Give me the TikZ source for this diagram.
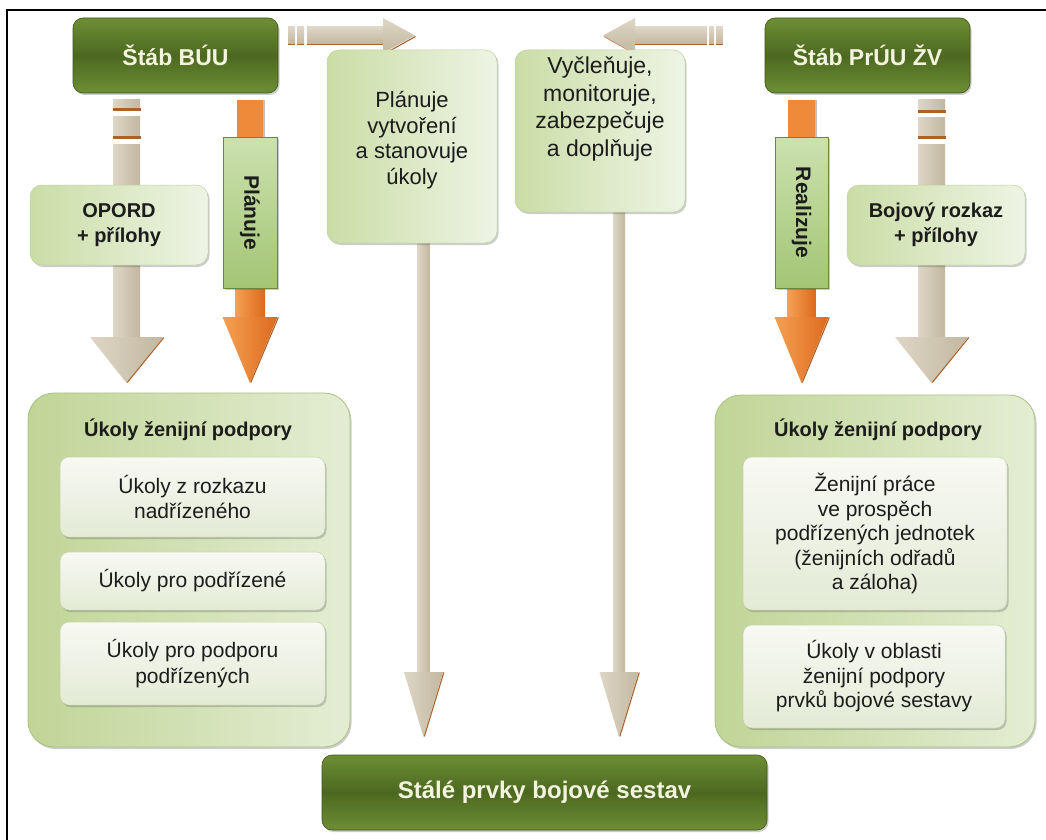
\documentclass[tikz,border=0pt]{standalone}
\usepackage{fontspec}
\setmainfont{Liberation Sans}
\usetikzlibrary{shadows}

% palette
\definecolor{dkA}{HTML}{6E8E35}
\definecolor{dkB}{HTML}{4C6820}
\definecolor{dkEdge}{HTML}{3E5518}
\definecolor{cream}{HTML}{F3F3DF}
\definecolor{lgA}{HTML}{CADDA6}
\definecolor{lgB}{HTML}{EEF4E4}
\definecolor{lgEdge}{HTML}{BFD1A0}
\definecolor{bigA}{HTML}{C0D597}
\definecolor{bigB}{HTML}{E4EDD3}
\definecolor{bigEdge}{HTML}{A9C07F}
\definecolor{wA}{HTML}{F8F9F3}
\definecolor{wB}{HTML}{E3EAD5}
\definecolor{wEdge}{HTML}{C4D1AC}
\definecolor{lbA}{HTML}{A3C574}
\definecolor{lbB}{HTML}{CCE1AF}
\definecolor{lbEdge}{HTML}{6B873A}
\definecolor{tanL}{HTML}{DED6C6}
\definecolor{tanD}{HTML}{C2B79F}
\definecolor{rust}{HTML}{A8622A}
\definecolor{orA}{HTML}{F6A052}
\definecolor{orB}{HTML}{DC6A1E}
\definecolor{orShaft}{HTML}{F08A3B}
\definecolor{ink}{HTML}{1C1C1C}

\tikzset{
  softshadow/.style={drop shadow={shadow xshift=1.5pt, shadow yshift=-2pt, opacity=0.28, fill=black!70}},
  darkbox/.style={draw=dkEdge, line width=0.6pt, rounded corners=10pt,
    top color=dkA, bottom color=dkA, middle color=dkB, text=cream,
    font=\fontsize{23}{26}\selectfont\bfseries, softshadow},
  lightbox/.style={draw=lgEdge, line width=0.5pt, rounded corners=12pt,
    left color=lgA, right color=lgB, softshadow},
  bigbox/.style={draw=bigEdge, line width=0.8pt, rounded corners=26pt,
    left color=bigA, right color=bigB, softshadow},
  innerbox/.style={draw=wEdge, line width=0.5pt, rounded corners=9pt,
    top color=wA, bottom color=wB, softshadow, text=ink, align=center,
    font=\fontsize{21}{25.5}\selectfont},
  lblbox/.style={draw=lbEdge, line width=0.6pt, top color=lbB, bottom color=lbA,
    text=ink, font=\fontsize{21}{24}\selectfont\bfseries, softshadow},
  bodytext/.style={text=ink, align=center, font=\fontsize{22}{25.5}\selectfont},
  boldtext/.style={text=ink, align=center, font=\fontsize{20}{25}\selectfont\bfseries},
  tanV/.style={left color=tanL, right color=tanD},
  tanH/.style={top color=tanL, bottom color=tanD},
  orV/.style={left color=orA, right color=orB},
}

% downward block arrow:
% #1 centre x, #2 shaft top, #3 head base, #4 tip, #5 half shaft, #6 half head, #7 fill style
\newcommand{\downblock}[7]{%
  \path[#7] ({#1-#5},#2) rectangle ({#1+#5},#3);
  \path[#7] ({#1-#6},#3) -- ({#1+#6},#3) -- (#1,#4) -- cycle;
  \draw[rust, line width=1.1pt] ({#1+#6+0.8},{#3+0.5}) -- ({#1+0.8},{#4-0.5});
}
% a short broken piece of a tan arrow
\newcommand{\tandash}[4]{%
  \path[tanV] (#1,#2) rectangle (#3,#4);
  \fill[rust] (#1,{#4-1.8}) rectangle ({#3+1},{#4+0.6});
}

\begin{document}
\begin{tikzpicture}[x=1pt,y=-1pt]
\useasboundingbox (0,0) rectangle (1046,840);
\fill[white] (0,0) rectangle (1046,840);

% page frame
\draw[line width=1.5pt] (7,840) -- (7,10) -- (1046,10);

% ---------- arrows (drawn first, boxes sit on top) ----------
% horizontal arrows at the top
\path[tanH] (288,27) rectangle (295,44);
\path[tanH] (297,27) rectangle (304,44);
\path[tanH] (307,27) rectangle (384,44);
\path[tanH] (383,18) -- (415,35.5) -- (383,53) -- cycle;
\draw[rust, line width=1pt] (288,44.6) -- (295,44.6) (297,44.6) -- (304,44.6) (307,44.6) -- (383,44.6);
\draw[rust, line width=1.1pt] (415.5,36.5) -- (384,54);

\path[tanH] (716,27) rectangle (723,44);
\path[tanH] (709,27) rectangle (714,44);
\path[tanH] (634,27) rectangle (707,44);
\path[tanH] (635,18) -- (603,35.5) -- (635,53) -- cycle;
\draw[rust, line width=1pt] (716,44.6) -- (723,44.6) (709,44.6) -- (714,44.6) (635,44.6) -- (707,44.6);
\draw[rust!70, line width=0.9pt] (604,36.5) -- (635,54);

% OPORD arrow
\tandash{113}{100}{140}{110}
\tandash{113}{117}{140}{138}
\downblock{126.5}{144}{337}{383}{13.5}{36.5}{tanV}

% Bojovy rozkaz arrow
\tandash{918}{100}{945}{112}
\tandash{918}{118}{945}{138}
\downblock{931.5}{144}{337}{383}{13.5}{36.5}{tanV}

% orange arrows
\fill[orShaft] (237,100) rectangle (263,140);
\fill[black!25] (263,100) rectangle (265,140);
\downblock{250}{280}{317}{383}{15}{27.5}{orV}
\fill[orShaft] (788,100) rectangle (815,140);
\fill[black!25] (815,100) rectangle (817,140);
\downblock{801.5}{280}{317}{383}{14}{27}{orV}

% long arrows down to the base box
\downblock{423.5}{240}{672}{737}{6}{19.5}{tanV}
\downblock{619}{208}{672}{737}{6}{19.5}{tanV}

% ---------- boxes ----------
\node[darkbox, minimum width=205pt, minimum height=75pt] (buu) at (175.5,55.5) {Štáb BÚU};
\node[darkbox, minimum width=205pt, minimum height=75pt] (pruu) at (867.5,55.5) {Štáb PrÚU ŽV};

\node[lightbox, minimum width=170pt, minimum height=193pt] (plan) at (412,146.5) {};
\node[bodytext] (plantext) at (412,140) {Plánuje\\vytvoření\\a stanovuje\\úkoly};

\node[lightbox, minimum width=170pt, minimum height=162pt] (vycl) at (600,131) {};
\node[bodytext, font=\fontsize{23}{27.5}\selectfont] (vycltext) at (600,109) {Vyčleňuje,\\monitoruje,\\zabezpečuje\\a doplňuje};

\node[lightbox, boldtext, minimum width=178pt, minimum height=80pt] (opord) at (119,225) {OPORD\\+ přílohy};
\node[lightbox, boldtext, minimum width=178pt, minimum height=80pt] (bojovy) at (936,225) {Bojový rozkaz\\+ přílohy};

\node[lblbox, rotate=-90, minimum width=151pt, minimum height=54pt] (planlbl) at (250,212.5) {Plánuje};
\node[lblbox, rotate=-90, minimum width=151pt, minimum height=53pt] (reallbl) at (801.5,212.5) {Realizuje};

% left group
\node[bigbox, minimum width=322pt, minimum height=354pt] (leftbig) at (189,570) {};
\node[boldtext] (lefttitle) at (188,430) {Úkoly ženijní podpory};
\node[innerbox, minimum width=265pt, minimum height=80pt] (l1) at (192.5,497) {Úkoly z rozkazu\\nadřízeného};
\node[innerbox, minimum width=265pt, minimum height=58pt] (l2) at (192.5,581) {Úkoly pro podřízené};
\node[innerbox, minimum width=265pt, minimum height=83pt] (l3) at (192.5,663.5) {Úkoly pro podporu\\podřízených};

% right group
\node[bigbox, minimum width=320pt, minimum height=352pt] (rightbig) at (875,571) {};
\node[boldtext] (righttitle) at (878,430) {Úkoly ženijní podpory};
\node[innerbox, minimum width=264pt, minimum height=153pt, font=\fontsize{21}{24.5}\selectfont] (r1) at (875,533.5) {Ženijní práce\\ve prospěch\\podřízených jednotek\\(ženijních odřadů\\a záloha)};
\node[innerbox, minimum width=262pt, minimum height=103pt, font=\fontsize{21}{24.5}\selectfont] (r2) at (874,676.5) {Úkoly v oblasti\\ženijní podpory\\prvků bojové sestavy};

% base box
\node[darkbox, minimum width=445pt, minimum height=75pt, font=\fontsize{24}{28}\selectfont\bfseries] (base) at (544.5,792.5) {Stálé prvky bojové sestav};

\end{tikzpicture}
\end{document}
